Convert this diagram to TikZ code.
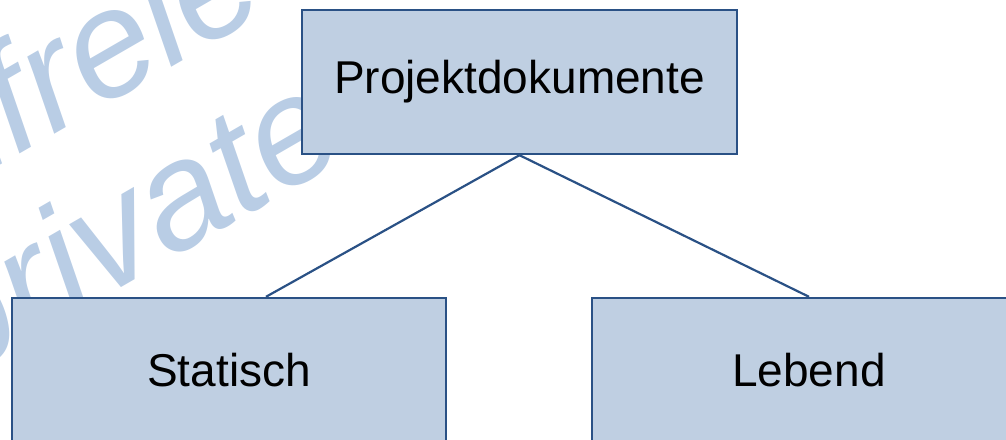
\documentclass[tikz,border=0pt]{standalone}
\usepackage{fontspec}
\setmainfont{Liberation Sans}
\begin{document}
\definecolor{boxfill}{HTML}{BFCFE2}
\definecolor{boxline}{HTML}{2A5185}
\definecolor{wmark}{HTML}{B9CDE5}
\begin{tikzpicture}[x=1pt,y=1pt,
  docbox/.style={draw=boxline, fill=boxfill, line width=2.4pt, rectangle,
    minimum width=434pt, minimum height=144pt, inner sep=0pt,
    font=\fontsize{46}{55}\selectfont},
  link/.style={draw=boxline, line width=2.2pt},
  wmtext/.style={text=wmark, rotate=30, inner sep=0pt,
    font=\fontsize{152}{170}\selectfont\itshape}]
\useasboundingbox (0,0) rectangle (1006,439);
\clip (0,0) rectangle (1006,439);

% background watermark
\node[wmtext, anchor=base east] (wm1) at (272,430) {Lizenzfreie};
\node[wmtext, anchor=base west] (wm2) at (-44,56) {private};

% boxes
\node[docbox, minimum width=435pt] (top) at (519.5,357) {Projektdokumente};
\node[docbox] (stat) at (229,69) {Statisch};
\node[docbox] (leb) at (809,69) {Lebend};

% connectors
\draw[link] (top.south) -- ([xshift=37pt]stat.north);
\draw[link] (top.south) -- (leb.north);
\end{tikzpicture}
\end{document}
